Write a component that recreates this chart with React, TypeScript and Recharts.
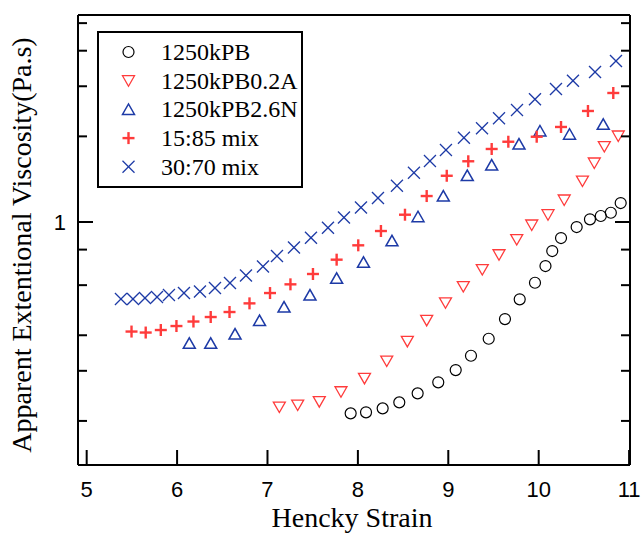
import React from "react";
import { ScatterChart, Scatter, XAxis, YAxis, Legend, Label } from "recharts";

// Hencky strain / apparent extensional viscosity (Pa.s)
const pbStrain = [7.92, 8.09, 8.274, 8.458, 8.661, 8.889, 9.082, 9.251, 9.447, 9.627, 9.79, 9.959, 10.075, 10.15, 10.247, 10.42, 10.567, 10.687, 10.798, 10.907];
const pbVisc = [0.2126, 0.2144, 0.2214, 0.2324, 0.25, 0.2733, 0.3018, 0.3389, 0.3888, 0.456, 0.535, 0.6117, 0.7003, 0.7907, 0.8784, 0.9603, 1.022, 1.05, 1.078, 1.166];

const pbAStrain = [7.131, 7.334, 7.573, 7.813, 8.073, 8.319, 8.547, 8.761, 8.969, 9.166, 9.376, 9.561, 9.757, 9.923, 10.103, 10.282, 10.484, 10.615, 10.726, 10.88];
const pbAVisc = [0.2238, 0.2274, 0.2339, 0.2532, 0.2822, 0.3247, 0.3807, 0.4513, 0.5202, 0.5933, 0.6808, 0.7675, 0.8679, 0.9761, 1.061, 1.195, 1.393, 1.612, 1.842, 2.006];

const pbNStrain = [6.135, 6.372, 6.641, 6.912, 7.183, 7.47, 7.765, 8.062, 8.377, 8.665, 8.945, 9.21, 9.48, 9.782, 10.014, 10.341, 10.714];
const pbNVisc = [0.3748, 0.3748, 0.404, 0.4506, 0.5027, 0.5539, 0.634, 0.7219, 0.8589, 1.044, 1.234, 1.457, 1.586, 1.88, 2.089, 2.035, 2.205];

const mix15Strain = [5.496, 5.653, 5.82, 5.993, 6.181, 6.372, 6.58, 6.801, 7.028, 7.254, 7.503, 7.765, 8.004, 8.255, 8.521, 8.761, 8.983, 9.221, 9.48, 9.664, 9.978, 10.247, 10.545, 10.825];
const mix15Visc = [0.4122, 0.4089, 0.4173, 0.431, 0.447, 0.4636, 0.4828, 0.5178, 0.5629, 0.604, 0.6567, 0.7374, 0.8282, 0.9298, 1.061, 1.234, 1.454, 1.635, 1.806, 1.915, 1.994, 2.158, 2.456, 2.841];

const mix30Strain = [5.379, 5.512, 5.645, 5.778, 5.91, 6.076, 6.253, 6.419, 6.585, 6.762, 6.95, 7.105, 7.293, 7.481, 7.669, 7.846, 8.034, 8.222, 8.432, 8.62, 8.797, 8.974, 9.173, 9.373, 9.561, 9.76, 9.959, 10.191, 10.379, 10.623, 10.855];
const mix30Visc = [0.5363, 0.5363, 0.5406, 0.545, 0.5539, 0.5629, 0.5699, 0.5861, 0.6104, 0.6486, 0.6975, 0.7595, 0.8135, 0.8808, 0.9549, 1.037, 1.124, 1.214, 1.341, 1.49, 1.638, 1.791, 1.979, 2.135, 2.315, 2.476, 2.7, 2.934, 3.138, 3.367, 3.681];

const xTicks = [5, 6, 7, 8, 9, 10, 11];
const yTicks = [0.2, 0.3, 0.4, 0.5, 0.6, 0.7, 0.8, 0.9, 1, 2, 3, 4, 5];
const yLabeled = [1];

const RED = "#ff3b3b";
const BLUE = "#1d3aa6";

const toPoints = (xs: number[], ys: number[]) => xs.map((x, i) => ({ x, y: ys[i] }));

type Kind = "circle" | "down" | "up" | "plus" | "cross";

function Marker({ kind, cx, cy }: { kind: Kind; cx: number; cy: number }) {
  switch (kind) {
    case "circle":
      return <circle cx={cx} cy={cy} r={5.5} fill="none" stroke="#000" strokeWidth={1.2} />;
    case "down":
      return (
        <polygon
          points={`${cx - 6},${cy - 5} ${cx + 6},${cy - 5} ${cx},${cy + 5.5}`}
          fill="none"
          stroke={RED}
          strokeWidth={1.3}
        />
      );
    case "up":
      return (
        <polygon
          points={`${cx - 6},${cy + 5} ${cx + 6},${cy + 5} ${cx},${cy - 5.5}`}
          fill="none"
          stroke={BLUE}
          strokeWidth={1.5}
        />
      );
    case "plus":
      return (
        <g stroke={RED} strokeWidth={2.4}>
          <line x1={cx - 6} y1={cy} x2={cx + 6} y2={cy} />
          <line x1={cx} y1={cy - 6} x2={cx} y2={cy + 6} />
        </g>
      );
    default:
      return (
        <g stroke={BLUE} strokeWidth={1.3}>
          <line x1={cx - 6} y1={cy - 6} x2={cx + 6} y2={cy + 6} />
          <line x1={cx - 6} y1={cy + 6} x2={cx + 6} y2={cy - 6} />
        </g>
      );
  }
}

const series: { name: string; kind: Kind; data: { x: number; y: number }[] }[] = [
  { name: "1250kPB", kind: "circle", data: toPoints(pbStrain, pbVisc) },
  { name: "1250kPB0.2A", kind: "down", data: toPoints(pbAStrain, pbAVisc) },
  { name: "1250kPB2.6N", kind: "up", data: toPoints(pbNStrain, pbNVisc) },
  { name: "15:85 mix", kind: "plus", data: toPoints(mix15Strain, mix15Visc) },
  { name: "30:70 mix", kind: "cross", data: toPoints(mix30Strain, mix30Visc) },
];

const sans = "'Liberation Sans', Arial, sans-serif";
const serif = "'Liberation Serif', 'Times New Roman', serif";

function LegendBox() {
  return (
    <svg width={206} height={157} style={{ display: "block" }}>
      <rect x={1} y={1} width={204} height={155} fill="#fff" stroke="#000" strokeWidth={2} />
      {series.map((s, i) => {
        const cy = 21 + i * 28.7;
        return (
          <g key={s.name}>
            <Marker kind={s.kind} cx={31.5} cy={cy} />
            <text x={64} y={cy + 8} fontFamily={serif} fontSize={24} fill="#000">
              {s.name}
            </text>
          </g>
        );
      })}
    </svg>
  );
}

const XTickBottom = (props: any) => {
  const { x, y, payload } = props;
  return (
    <g>
      <line x1={x} y1={y} x2={x} y2={y - 15} stroke="#000" strokeWidth={2} />
      <text x={x} y={y + 31.5} textAnchor="middle" fontFamily={sans} fontSize={22} fill="#000">
        {payload.value}
      </text>
    </g>
  );
};

const XTickTop = (props: any) => {
  const { x, y } = props;
  return <line x1={x} y1={y} x2={x} y2={y + 15} stroke="#000" strokeWidth={2} />;
};

const YTickLeft = (props: any) => {
  const { x, y, payload } = props;
  const major = yLabeled.includes(payload.value);
  return (
    <g>
      <line x1={x} y1={y} x2={x + (major ? 15 : 9)} y2={y} stroke="#000" strokeWidth={2} />
      {major && (
        <text x={x - 12} y={y + 8} textAnchor="end" fontFamily={sans} fontSize={22} fill="#000">
          {payload.value}
        </text>
      )}
    </g>
  );
};

const YTickRight = (props: any) => {
  const { x, y, payload } = props;
  const major = yLabeled.includes(payload.value);
  return <line x1={x} y1={y} x2={x - (major ? 15 : 9)} y2={y} stroke="#000" strokeWidth={2} />;
};

export default function App() {
  return (
    <div style={{ position: "absolute", left: 0, top: 0, background: "#fff" }}>
      <ScatterChart width={643} height={535} margin={{ top: 0, right: 0, bottom: 0, left: 0 }}>
        <XAxis
          dataKey="x"
          type="number"
          domain={[4.904, 11.01]}
          ticks={xTicks}
          allowDataOverflow
          height={70}
          tickSize={0}
          tickMargin={0}
          tickLine={false}
          tick={XTickBottom}
          axisLine={{ stroke: "#000", strokeWidth: 2 }}
        >
          <Label
            content={({ viewBox }: any) => (
              <text
                x={viewBox.x + viewBox.width / 2 - 2}
                y={527}
                textAnchor="middle"
                fontFamily={serif}
                fontSize={28}
                fill="#000"
              >
                Hencky Strain
              </text>
            )}
          />
        </XAxis>
        <XAxis
          xAxisId="top"
          orientation="top"
          type="number"
          domain={[4.904, 11.01]}
          ticks={xTicks}
          allowDataOverflow
          height={15}
          tickSize={0}
          tickMargin={0}
          tickLine={false}
          tick={XTickTop}
          axisLine={{ stroke: "#000", strokeWidth: 2 }}
        />
        <YAxis
          dataKey="y"
          type="number"
          scale="log"
          domain={[0.14, 5.34]}
          ticks={yTicks}
          allowDataOverflow
          width={78}
          tickSize={0}
          tickMargin={0}
          tickLine={false}
          tick={YTickLeft}
          axisLine={{ stroke: "#000", strokeWidth: 2 }}
        >
          <Label
            content={({ viewBox }: any) => {
              const cy = viewBox.y + viewBox.height / 2 + 5;
              return (
                <text
                  x={31}
                  y={cy}
                  transform={`rotate(-90 31 ${cy})`}
                  textAnchor="middle"
                  fontFamily={serif}
                  fontSize={28}
                  fill="#000"
                >
                  Apparent Extentional Viscosity(Pa.s)
                </text>
              );
            }}
          />
        </YAxis>
        <YAxis
          yAxisId="right"
          orientation="right"
          type="number"
          scale="log"
          domain={[0.14, 5.34]}
          ticks={yTicks}
          allowDataOverflow
          width={13}
          tickSize={0}
          tickMargin={0}
          tickLine={false}
          tick={YTickRight}
          axisLine={{ stroke: "#000", strokeWidth: 2 }}
        />
        <Legend
          layout="vertical"
          align="center"
          verticalAlign="middle"
          wrapperStyle={{ left: 97, top: 31, width: 206, height: 157 }}
          content={() => <LegendBox />}
        />
        {series.map((s) => (
          <Scatter
            key={s.name}
            name={s.name}
            data={s.data}
            isAnimationActive={false}
            shape={(p: any) => <Marker kind={s.kind} cx={p.cx} cy={p.cy} />}
          />
        ))}
      </ScatterChart>
    </div>
  );
}
